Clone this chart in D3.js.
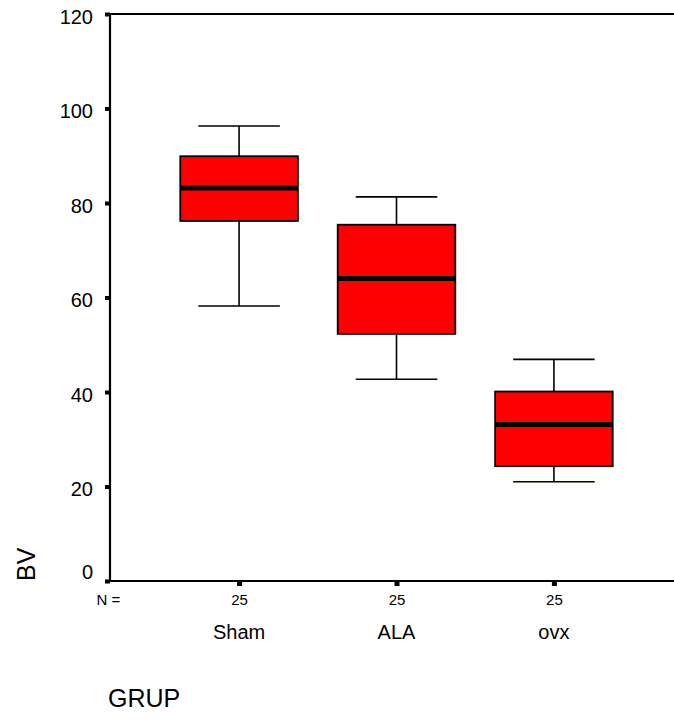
<!DOCTYPE html>
<html>
<head>
<meta charset="utf-8">
<script src="https://cdn.jsdelivr.net/npm/d3@7"></script>
<style>
  html, body { margin: 0; padding: 0; background: #fff; }
  svg { display: block; font-family: Arial, "Liberation Sans", sans-serif; }
</style>
</head>
<body>
<svg id="chart" width="674" height="720"></svg>
<script>
// ---- data ----
const categories = ["Sham", "ALA", "ovx"];
const nValues = [25, 25, 25];
const whiskerLow = [58.2, 42.7, 21.0];
const q1 = [76.2, 52.3, 24.3];
const medians = [83.2, 64.0, 33.1];
const q3 = [89.9, 75.4, 40.1];
const whiskerHigh = [96.3, 81.3, 46.9];
const yTicks = [0, 20, 40, 60, 80, 100, 120];
const yTitle = "BV";
const xTitle = "GRUP";

(function () {
const rows = categories.map((c, i) => ({
  cat: c, n: nValues[i], lo: whiskerLow[i], q1: q1[i], med: medians[i], q3: q3[i], hi: whiskerHigh[i]
}));

const svg = d3.select("#chart");
const pl = 110, pr = 683, pt = 14, pb = 581;

const x = d3.scalePoint().domain(categories).range([pl, pr]).padding(0.82);
const y = d3.scaleLinear().domain([0, 120]).range([pb, pt]);
const step = x.step();
const boxW = step * 0.747;
const capW = step * 0.518;

// frame (top and right)
svg.append("line").attr("x1", pl).attr("x2", pr).attr("y1", pt).attr("y2", pt)
  .attr("stroke", "#000").attr("stroke-width", 2);
svg.append("line").attr("x1", pr).attr("x2", pr).attr("y1", pt).attr("y2", pb)
  .attr("stroke", "#000").attr("stroke-width", 2);

// boxes
const g = svg.append("g");
const b = g.selectAll("g.box").data(rows).join("g").attr("class", "box");
b.append("line")
  .attr("x1", d => x(d.cat)).attr("x2", d => x(d.cat))
  .attr("y1", d => y(d.hi)).attr("y2", d => y(d.q3))
  .attr("stroke", "#000").attr("stroke-width", 1.6);
b.append("line")
  .attr("x1", d => x(d.cat)).attr("x2", d => x(d.cat))
  .attr("y1", d => y(d.q1)).attr("y2", d => y(d.lo))
  .attr("stroke", "#000").attr("stroke-width", 1.6);
b.append("line")
  .attr("x1", d => x(d.cat) - capW / 2).attr("x2", d => x(d.cat) + capW / 2)
  .attr("y1", d => y(d.hi)).attr("y2", d => y(d.hi))
  .attr("stroke", "#000").attr("stroke-width", 1.6);
b.append("line")
  .attr("x1", d => x(d.cat) - capW / 2).attr("x2", d => x(d.cat) + capW / 2)
  .attr("y1", d => y(d.lo)).attr("y2", d => y(d.lo))
  .attr("stroke", "#000").attr("stroke-width", 1.6);
b.append("rect")
  .attr("x", d => x(d.cat) - boxW / 2).attr("width", boxW)
  .attr("y", d => y(d.q3)).attr("height", d => y(d.q1) - y(d.q3))
  .attr("fill", "#ff0000").attr("stroke", "#000").attr("stroke-width", 1.8);
b.append("line")
  .attr("x1", d => x(d.cat) - boxW / 2).attr("x2", d => x(d.cat) + boxW / 2)
  .attr("y1", d => y(d.med)).attr("y2", d => y(d.med))
  .attr("stroke", "#000").attr("stroke-width", 5);

// y axis
const yAxis = svg.append("g").attr("transform", `translate(${pl},0)`)
  .call(d3.axisLeft(y).tickValues(yTicks).tickSize(5).tickPadding(12).tickFormat(d3.format("d")));
yAxis.select(".domain").remove();
yAxis.selectAll(".tick line").attr("stroke", "#000").attr("stroke-width", 4);
yAxis.selectAll(".tick text")
  .attr("fill", "#000").attr("font-size", 20)
  .attr("font-family", "Arial, 'Liberation Sans', sans-serif")
  .attr("dy", null)
  .attr("y", d => d === 0 ? -3 : 9);
svg.append("line").attr("x1", pl).attr("x2", pl).attr("y1", pt - 1).attr("y2", pb + 1)
  .attr("stroke", "#000").attr("stroke-width", 2.2);

// x axis (N counts)
const xAxis = svg.append("g").attr("transform", `translate(0,${pb})`)
  .call(d3.axisBottom(x).tickSize(5).tickPadding(8).tickFormat((d, i) => nValues[i]));
xAxis.select(".domain").remove();
xAxis.selectAll(".tick line").attr("stroke", "#000").attr("stroke-width", 5);
xAxis.selectAll(".tick text")
  .attr("fill", "#000").attr("font-size", 15)
  .attr("font-family", "Arial, 'Liberation Sans', sans-serif")
  .attr("dy", null).attr("y", 24);
svg.append("line").attr("x1", pl - 1).attr("x2", pr).attr("y1", pb).attr("y2", pb)
  .attr("stroke", "#000").attr("stroke-width", 2.2);

svg.append("text").attr("x", 96.5).attr("y", 605).attr("font-size", 15).text("N =");

// category labels
svg.append("g").selectAll("text").data(categories).join("text")
  .attr("x", d => x(d)).attr("y", 639).attr("text-anchor", "middle")
  .attr("font-size", 20).text(d => d);

// titles
svg.append("text").attr("x", 108).attr("y", 707).attr("font-size", 25).text(xTitle);
svg.append("text").attr("transform", "translate(35,581) rotate(-90)")
  .attr("font-size", 25).text(yTitle);
})();
</script>
</body>
</html>
